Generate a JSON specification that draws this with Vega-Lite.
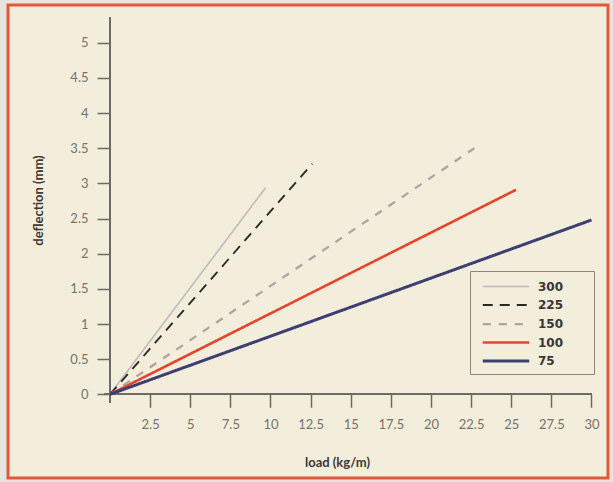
{
  "$schema": "https://vega.github.io/schema/vega-lite/v6.json",
  "width": 600,
  "height": 473,
  "autosize": {"type": "none"},
  "padding": {"left": 8, "top": 5, "right": 5, "bottom": 4},
  "background": "#e6e6df",
  "config": {
    "view": {"fill": "#f3eddc", "stroke": "#e3583a", "strokeWidth": 3},
    "font": "Lato"
  },
  "data": {
    "values": [
      {"series": "300", "load": 0, "deflection": 0},
      {"series": "300", "load": 9.7, "deflection": 2.94},
      {"series": "225", "load": 0, "deflection": 0},
      {"series": "225", "load": 12.6, "deflection": 3.28},
      {"series": "150", "load": 0, "deflection": 0},
      {"series": "150", "load": 22.7, "deflection": 3.5},
      {"series": "100", "load": 0, "deflection": 0},
      {"series": "100", "load": 25.3, "deflection": 2.91},
      {"series": "75", "load": 0, "deflection": 0},
      {"series": "75", "load": 30, "deflection": 2.48}
    ]
  },
  "layer": [
    {
      "mark": {"type": "rule", "color": "#6e6a64", "strokeWidth": 1.5},
      "encoding": {
        "x": {"datum": -0.35, "type": "quantitative"},
        "x2": {"datum": 30.02},
        "y": {"datum": 0, "type": "quantitative"}
      }
    },
    {
      "mark": {"type": "rule", "color": "#6e6a64", "strokeWidth": 1.5},
      "encoding": {
        "x": {"datum": 0, "type": "quantitative"},
        "y": {"datum": -0.12, "type": "quantitative"},
        "y2": {"datum": 5.36}
      }
    },
    {
      "mark": {"type": "line", "clip": false},
      "encoding": {
        "x": {
          "field": "load", "type": "quantitative",
          "scale": {"domain": [-6.355, 31.03], "nice": false, "zero": false},
          "axis": {
            "values": [2.5, 5, 7.5, 10, 12.5, 15, 17.5, 20, 22.5, 25, 27.5, 30],
            "labelExpr": "datum.value + ''",
            "offset": -83.7, "domain": false, "grid": false,
            "tickSize": 13, "tickWidth": 1.5, "tickColor": "#6e6a64",
            "labelPadding": 11, "labelFontSize": 13, "labelColor": "#77726b",
            "labelFlush": false,
            "title": "load (kg/m)", "titleFontSize": 13, "titleFontWeight": "bold", "titleColor": "#3c3834",
            "titleX": 329, "titleY": 68, "titleBaseline": "middle", "titleAnchor": "middle"
          }
        },
        "y": {
          "field": "deflection", "type": "quantitative",
          "scale": {"domain": [-1.19, 5.538], "nice": false, "zero": false},
          "axis": {
            "values": [0, 0.5, 1, 1.5, 2, 2.5, 3, 3.5, 4, 4.5, 5],
            "labelExpr": "datum.value + ''",
            "offset": -102, "domain": false, "grid": false,
            "tickSize": 13, "tickWidth": 1.5, "tickColor": "#6e6a64",
            "labelPadding": 9, "labelFontSize": 13, "labelColor": "#77726b",
            "labelFlush": false,
            "title": "deflection (mm)", "titleFontSize": 13, "titleFontWeight": "bold", "titleColor": "#3c3834",
            "titleX": -72, "titleY": 195, "titleBaseline": "middle", "titleAnchor": "middle"
          }
        },
        "color": {
          "field": "series", "type": "nominal",
          "scale": {"domain": ["300", "225", "150", "100", "75"], "range": ["#bcb8bc", "#2b2926", "#aaa59f", "#e5452d", "#3b3f72"]},
          "legend": {
            "orient": "none", "legendX": 462, "legendY": 266,
            "title": "\u00a0", "titleOrient": "right", "titlePadding": 24, "titleFontSize": 4,
            "strokeColor": "#8a8580", "padding": 7,
            "symbolType": "M-3.1,0H3.1", "symbolSize": 225, "symbolOffset": 20,
            "labelOffset": 23, "rowPadding": 3.5,
            "labelFont": "DejaVu Sans", "labelFontSize": 12, "labelFontWeight": "bold", "labelColor": "#3a3633"
          }
        },
        "strokeDash": {
          "field": "series", "type": "nominal",
          "scale": {"domain": ["300", "225", "150", "100", "75"], "range": [[1, 0], [10, 7], [8, 8], [1, 0], [1, 0]]},
          "legend": null
        },
        "strokeWidth": {
          "field": "series", "type": "nominal",
          "scale": {"domain": ["300", "225", "150", "100", "75"], "range": [1.5, 3, 1.5, 2.5, 2.5]},
          "legend": null
        }
      }
    }
  ]
}
